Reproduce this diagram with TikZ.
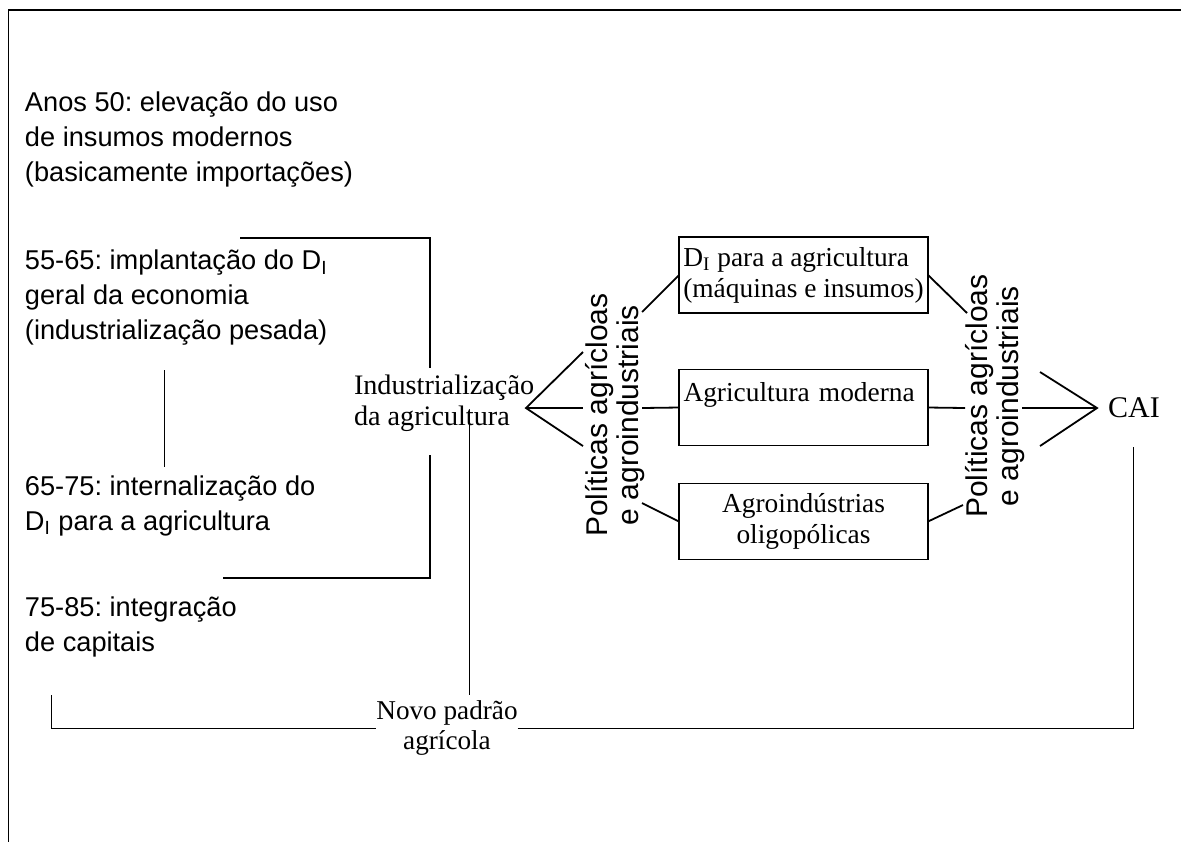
\documentclass[tikz,border=0pt]{standalone}
\usepackage{fontspec}
\setmainfont{Liberation Serif}
\newfontfamily\arialfont{Liberation Sans}
\frenchspacing
\begin{document}
\begin{tikzpicture}[%
	x=0.5pt, y=-0.5pt,
	every node/.style = {inner sep=0pt, outer sep=0pt},
	period/.style = {anchor=west, align=left, font=\arialfont\fontsize{13.6}{17.5}\selectfont},
	stage/.style = {align=left, font=\fontsize{14.1}{15.5}\selectfont},
	sector/.style = {draw, line width=0.9pt, minimum width=124.5pt, minimum height=38pt, align=center, font=\fontsize{13.7}{15.5}\selectfont},
	policy/.style = {rotate=90, align=center, font=\arialfont\fontsize{15}{15.5}\selectfont},
	fan/.style = {line width=0.9pt},
	thin/.style = {line width=0.5pt}
	]
  \useasboundingbox [fill=white] (0,0) rectangle (1181,842);
  \draw [line width=1.2pt] (8,10) -- (1181,10);
  \draw [thin] (8,10) -- (8,842);
  \node [period] (p50) at (25,140) {Anos 50: elevação do uso\\de insumos modernos\\(basicamente importações)};
  \node [period] (p55) at (25,298) {55-65: implantação do D\textsubscript{I}\\geral da economia\\(industrialização pesada)};
  \node [period] (p65) at (25,506) {65-75: internalização do\\D\textsubscript{I} para a agricultura};
  \node [period] (p75) at (25,627) {75-85: integração\\de capitais};
  \node [stage, anchor=west] (ind) at (354,403) {Industrialização\\da agricultura};
  \node [stage, align=center, font=\fontsize{13.6}{15}\selectfont] (novo) at (447,728) {Novo padrão\\agrícola};
  \node [sector, align=left] (di) at (803.5,275) {D\textsubscript{I} para a agricultura\\(máquinas e insumos)};
  \node [sector, align=left, text width=120pt] (mod) at (803.5,407.5) {Agricultura moderna\\~};
  \node [sector] (oligo) at (803.5,521.5) {Agroindústrias\\oligopólicas};
  \node [policy] (polL) at (615,415) {Políticas agrícloas\\e agroindustriais};
  \node [policy] (polR) at (995,396) {Políticas agrícloas\\e agroindustriais};
  \node [font=\fontsize{15}{15}\selectfont] (cai) at (1134,408) {CAI};
  \coordinate (fanL) at (526,408);
  \coordinate (fanR) at (1097,408);
  \coordinate (a1) at (583,352);
  \coordinate (a2) at (583,408);
  \coordinate (a3) at (583,446);
  \coordinate (b1) at (642,312);
  \coordinate (b2) at (642,408);
  \coordinate (b3) at (642,503);
  \coordinate (c1) at (967,313);
  \coordinate (c2) at (965,408);
  \coordinate (c3) at (963,505);
  \coordinate (d1) at (1040,372);
  \coordinate (d2) at (1022,408);
  \coordinate (d3) at (1040,446);
  \draw [fan] (a1) -- (fanL) -- (a3);
  \draw [fan] (fanL) -- (a2);
  \draw [fan] (b1) -- (di.west);
  \draw [fan] (b2) -- (mod.west);
  \draw [fan] (b3) -- (oligo.west);
  \draw [fan] (di.east) -- (c1);
  \draw [fan] (mod.east) -- (c2);
  \draw [fan] (oligo.east) -- (c3);
  \draw [fan] (d1) -- (fanR) -- (d3);
  \draw [fan] (d2) -- (fanR);
  \coordinate (br1) at (240,238);
  \coordinate (br2) at (430,368);
  \coordinate (br3) at (430,455);
  \coordinate (br4) at (223,578);
  \draw [fan] (br1) -| (br2);
  \draw [fan] (br3) |- (br4);
  \coordinate (s1) at (164,370);
  \coordinate (s2) at (164,467);
  \draw [thin] (s1) -- (s2);
  \coordinate (n1) at (469,410);
  \coordinate (n2) at (469,695);
  \draw [thin] (n1) -- (n2);
  \coordinate (n3) at (51,695);
  \coordinate (n4) at (1133,447);
  \draw [thin] (n3) |- (novo.west);
  \draw [thin] (novo.east) -| (n4);
\end{tikzpicture}
\end{document}
